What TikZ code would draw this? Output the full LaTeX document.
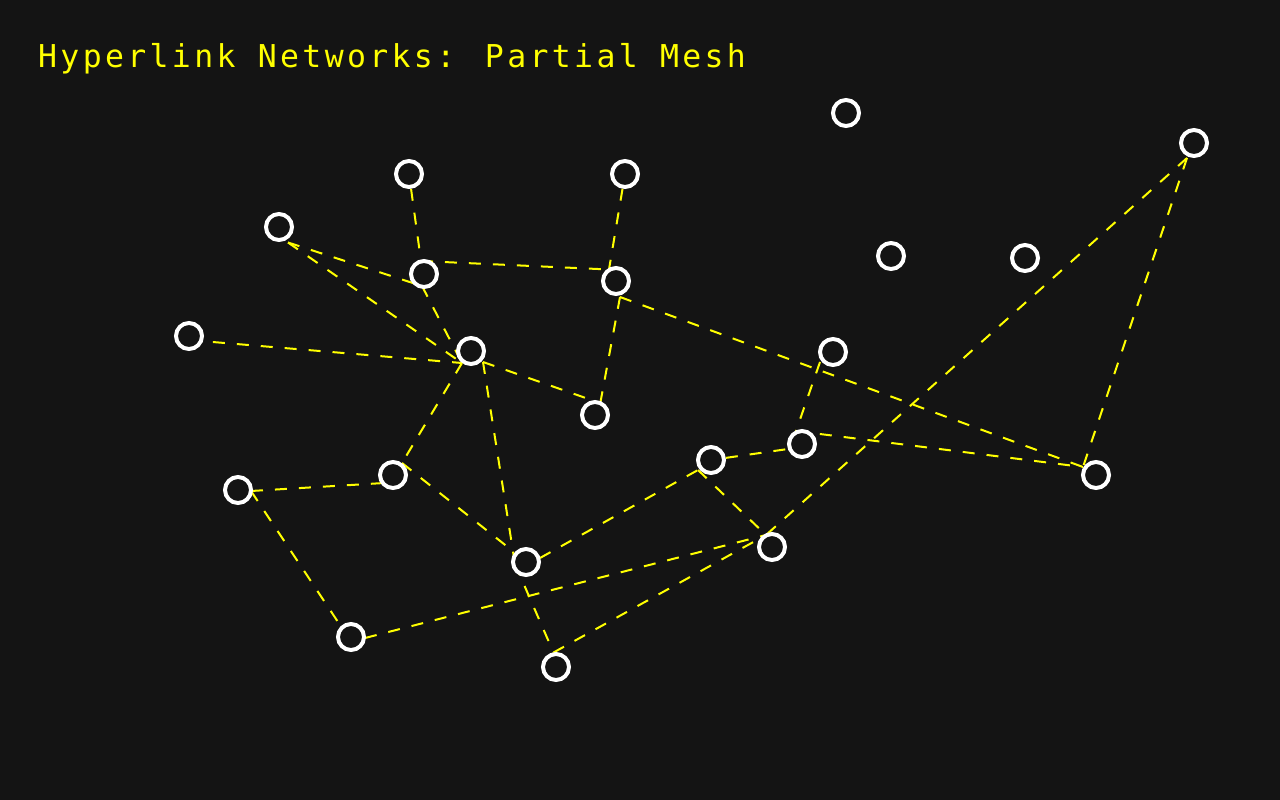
\documentclass[tikz,border=0pt]{standalone}
\usepackage{fontspec}
\newfontfamily\titlefont[LetterSpace=10.6]{DejaVu Sans Mono}
\usetikzlibrary{calc}
\definecolor{bgdark}{RGB}{20,20,20}
\definecolor{linkyellow}{RGB}{255,255,0}
\pgfdeclarelayer{bg}
\pgfdeclarelayer{links}
\pgfsetlayers{bg,links,main}
\tikzset{
    page/.style={draw=white, circle, line width=4pt, fill=bgdark, inner sep=0pt, minimum size=26pt},
    link/.style={linkyellow, line width=2pt, dash pattern=on 12pt off 12pt},
    title/.style={anchor=base west, inner sep=0pt, text=linkyellow, font=\titlefont\fontsize{31.5}{36}\selectfont}
}

\begin{document}
\begin{tikzpicture}[x=1pt,y=-1pt]
    \begin{pgfonlayer}{bg}
        \fill[bgdark] (0,0) rectangle (1280,800);
    \end{pgfonlayer}
    \useasboundingbox (0,0) rectangle (1280,800);

    \node[title] (heading) at (38,68) {Hyperlink Networks: Partial Mesh};

    % pages
    \node[page] (pageA) at (846,113) {};
    \node[page] (pageB) at (1194,143) {};
    \node[page] (pageC) at (409,174) {};
    \node[page] (pageD) at (625,174) {};
    \node[page] (pageE) at (279,227) {};
    \node[page] (pageF) at (891,256) {};
    \node[page] (pageG) at (1025,258) {};
    \node[page] (pageH) at (424,274) {};
    \node[page] (pageI) at (616,281) {};
    \node[page] (pageJ) at (189,336) {};
    \node[page] (pageK) at (471,351) {};
    \node[page] (pageL) at (833,352) {};
    \node[page] (pageM) at (595,415) {};
    \node[page] (pageN) at (802,444) {};
    \node[page] (pageO) at (711,460) {};
    \node[page] (pageP) at (1096,475) {};
    \node[page] (pageQ) at (393,475) {};
    \node[page] (pageR) at (238,490) {};
    \node[page] (pageS) at (772,547) {};
    \node[page] (pageT) at (526,562) {};
    \node[page] (pageU) at (351,637) {};
    \node[page] (pageV) at (556,667) {};

    % where the links meet the rings
    \coordinate (hookB) at ($(pageB)+(-7,15)$);
    \coordinate (hookE) at ($(pageE)+(9,15.5)$);
    \coordinate (hookHtop) at ($(pageH)+(-3,-13)$);
    \coordinate (hookHbot) at ($(pageH)+(-2,12)$);
    \coordinate (hookItop) at ($(pageI)+(-7,-11.5)$);
    \coordinate (hookIbot) at ($(pageI)+(4,16)$);
    \coordinate (hookJ) at ($(pageJ)+(0,4)$);
    \coordinate (hookKleft) at ($(pageK)+(-9,12)$);
    \coordinate (hookKright) at ($(pageK)+(12,11)$);
    \coordinate (hookL) at ($(pageL)+(-13,10)$);
    \coordinate (hookMtop) at ($(pageM)+(-5,-15.5)$);
    \coordinate (hookMin) at ($(pageM)+(4,-5)$);
    \coordinate (hookNtop) at ($(pageN)+(-6,-13)$);
    \coordinate (hookNleft) at ($(pageN)+(-14,5)$);
    \coordinate (hookO) at ($(pageO)+(-13,10)$);
    \coordinate (hookP) at ($(pageP)+(-13,-8)$);
    \coordinate (hookQtop) at ($(pageQ)+(9,-12)$);
    \coordinate (hookQleft) at ($(pageQ)+(-9,8)$);
    \coordinate (hookR) at ($(pageR)+(13,1)$);
    \coordinate (hookS) at ($(pageS)+(-6,-12)$);
    \coordinate (hookTleft) at ($(pageT)+(-11,2)$);
    \coordinate (hookTup) at ($(pageT)+(-12,-10)$);
    \coordinate (hookTright) at ($(pageT)+(14,-4)$);
    \coordinate (hookUin) at ($(pageU)+(-5,-3)$);
    \coordinate (hookUright) at ($(pageU)+(14,1)$);
    \coordinate (hookV) at ($(pageV)+(-2.5,-14.5)$);

    % links
    \begin{pgfonlayer}{links}
        \draw[link] (pageC) -- (hookHtop);
        \draw[link] (pageD) -- (hookItop);
        \draw[link] (hookHtop) -- (hookItop);
        \draw[link] (hookE) -- (hookHbot);
        \draw[link] (hookE) -- (hookKleft);
        \draw[link] (hookHbot) -- (hookKleft);
        \draw[link] (hookJ) -- (hookKleft);
        \draw[link] (hookKleft) -- (hookQtop);
        \draw[link] (hookKright) -- (hookMtop);
        \draw[link] (hookKright) -- (hookTleft);
        \draw[link] (hookIbot) -- (hookMin);
        \draw[link] (hookIbot) -- (hookP);
        \draw[link] (hookL) -- (hookNtop);
        \draw[link] (hookNtop) -- (hookP);
        \draw[link] (hookB) -- (hookP);
        \draw[link] (hookB) -- (hookS);
        \draw[link] (pageO) -- (hookNleft);
        \draw[link] (hookTright) -- (hookO);
        \draw[link] (hookO) -- (hookS);
        \draw[link] (hookR) -- (hookQleft);
        \draw[link] (hookR) -- (hookUin);
        \draw[link] (hookQtop) -- (hookTup);
        \draw[link] (hookUright) -- (hookS);
        \draw[link] (hookTleft) -- (hookV);
        \draw[link] (hookV) -- (hookS);
    \end{pgfonlayer}

\end{tikzpicture}
\end{document}
